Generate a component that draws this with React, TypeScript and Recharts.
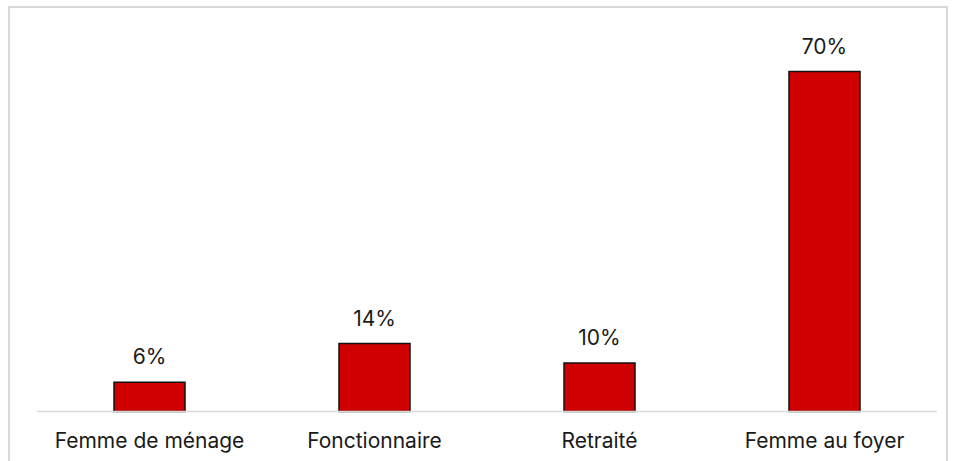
import React from 'react';
import { BarChart, Bar, XAxis, YAxis, LabelList } from 'recharts';

const categories = ['Femme de ménage', 'Fonctionnaire', 'Retraité', 'Femme au foyer'];
const shares = [6, 14, 10, 70];

const FONT = 'Inter, "Open Sans", sans-serif';
const TEXT = '#1a1a1a';

export default function App() {
  const data = categories.map((name, i) => ({ name, value: shares[i] }));

  return (
    <div style={{ position: 'absolute', left: 0, top: 0, width: 953, height: 461, overflow: 'hidden', background: '#fff' }}>
      {/* light frame around the chart, bottom edge runs off the page */}
      <div
        style={{
          position: 'absolute',
          left: 8,
          top: 6,
          width: 936,
          height: 480,
          border: '2px solid #d9d9d9',
        }}
      />
      <div style={{ position: 'absolute', left: 0, top: 0 }}>
        <BarChart
          width={953}
          height={461}
          data={data}
          margin={{ top: 23, right: 16, bottom: 0, left: 37 }}
        >
          <YAxis hide domain={[0, 80]} />
          <XAxis
            dataKey="name"
            height={49.5}
            axisLine={{ stroke: '#d9d9d9', strokeWidth: 1.5 }}
            tickLine={false}
            tickSize={0}
            tickMargin={22}
            tick={{ fill: TEXT, fontSize: 21, fontFamily: FONT }}
            interval={0}
          />
          <Bar dataKey="value" fill="#d10000" stroke="#111" strokeWidth={1.5} barSize={71} isAnimationActive={false}>
            <LabelList
              dataKey="value"
              position="top"
              offset={18}
              formatter={(v: number) => `${v}%`}
              style={{ fill: TEXT, fontSize: 21, fontFamily: FONT }}
            />
          </Bar>
        </BarChart>
      </div>
    </div>
  );
}
